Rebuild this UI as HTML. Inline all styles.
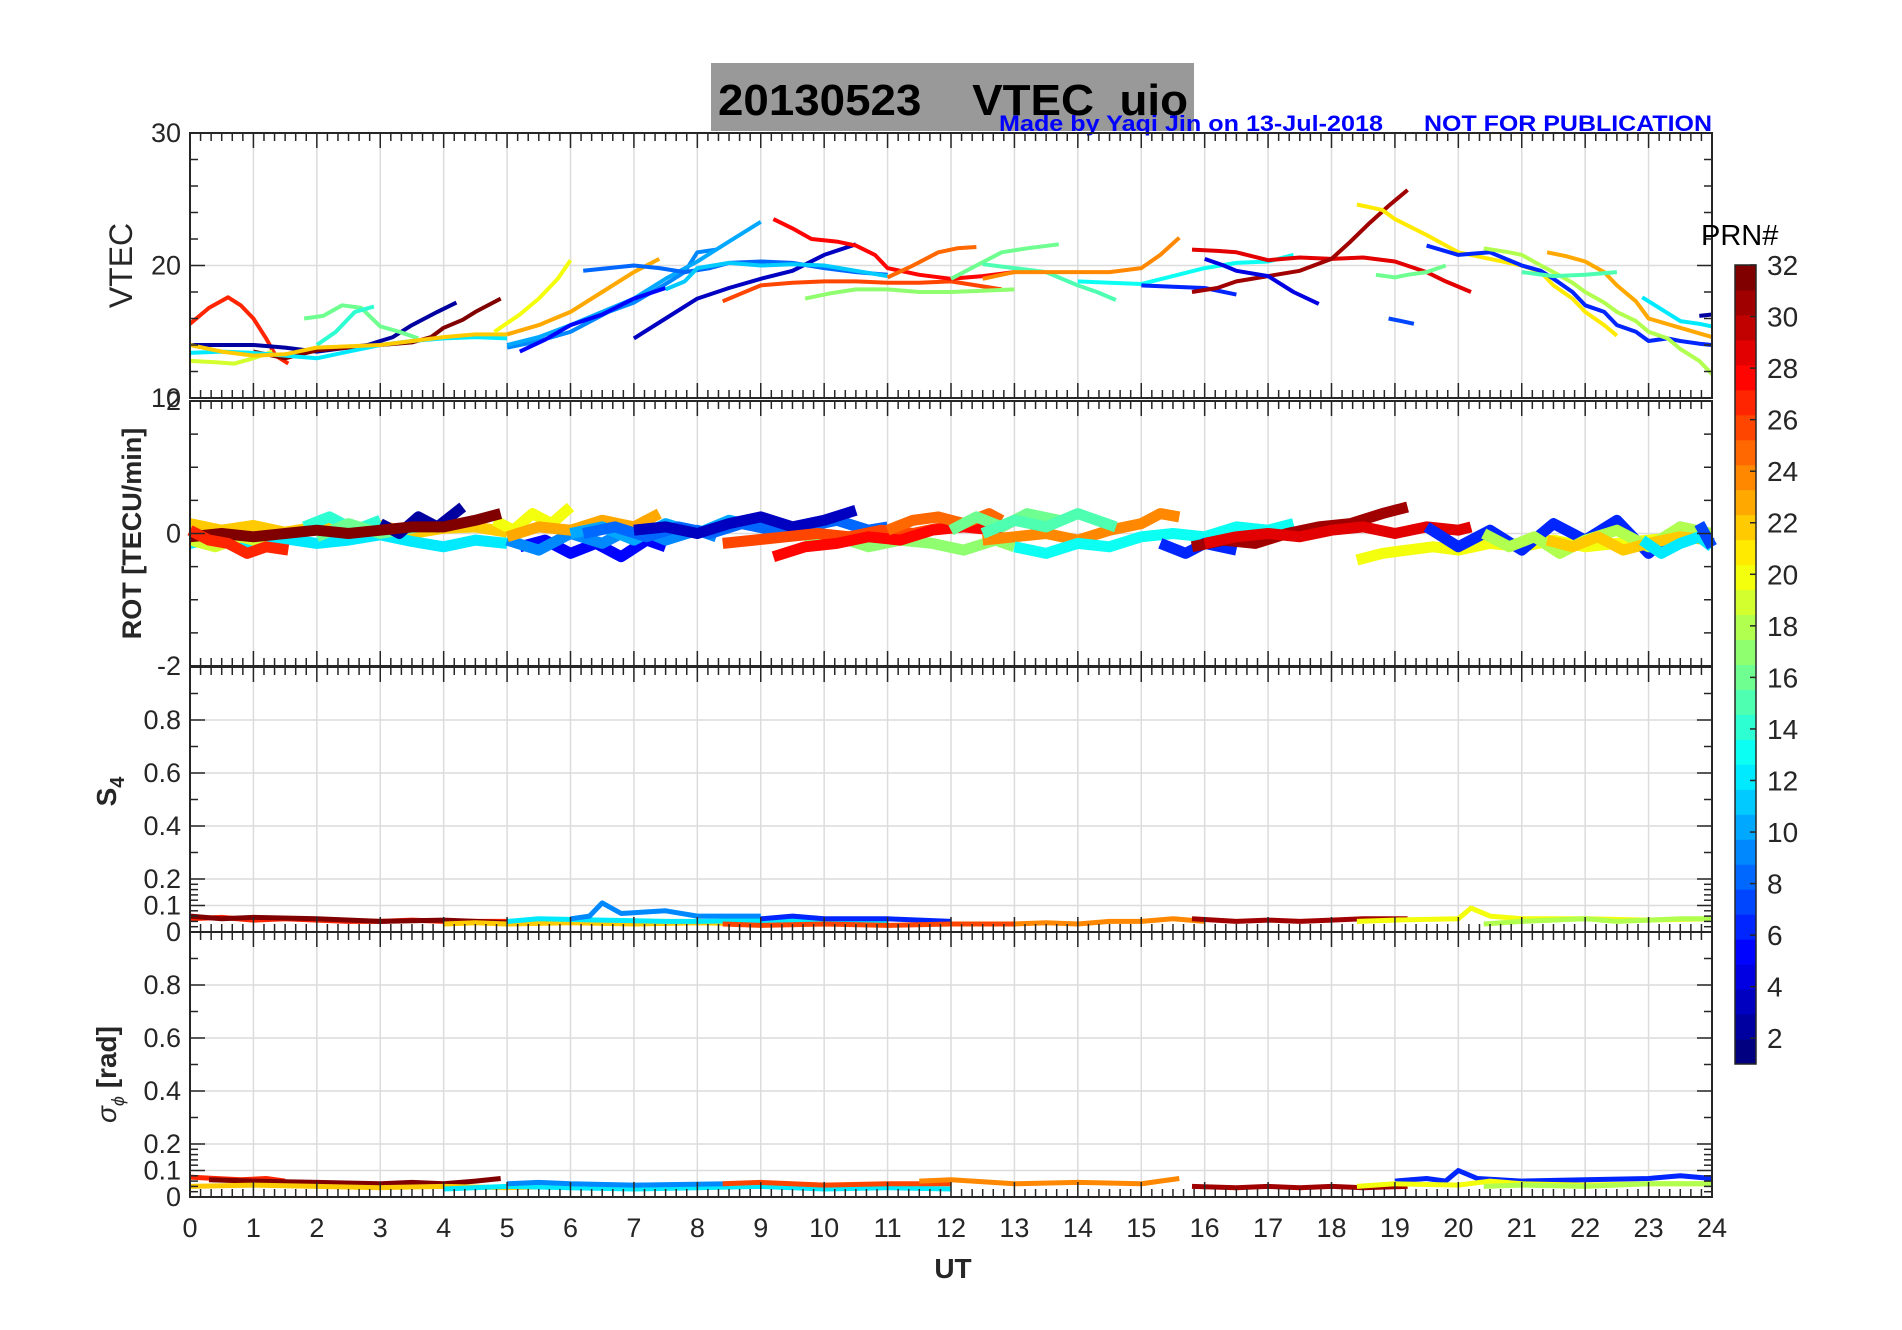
<!DOCTYPE html>
<html><head><meta charset="utf-8">
<style>
html,body{margin:0;padding:0;background:#fff;}
svg{display:block;font-family:"Liberation Sans",sans-serif;}
</style></head>
<body>
<svg id="fig" width="1902" height="1330" viewBox="0 0 1902 1330">
<rect x="0" y="0" width="1902" height="1330" fill="#fff"/>
<rect x="711" y="63" width="483" height="68" fill="#999"/>
<text x="718" y="115" font-size="44" font-weight="bold" fill="#000" xml:space="preserve" style="white-space:pre" textLength="470" lengthAdjust="spacingAndGlyphs">20130523    VTEC  uio</text>
<text x="999" y="131" font-size="22" font-weight="bold" fill="#0000ff" textLength="384" lengthAdjust="spacingAndGlyphs">Made by Yaqi Jin on 13-Jul-2018</text>
<text x="1424" y="131" font-size="22" font-weight="bold" fill="#0000ff" textLength="288" lengthAdjust="spacingAndGlyphs">NOT FOR PUBLICATION</text>
<g id="layer"></g>
</svg>
<script>
// ---- data ----
const hourTicks = [0,1,2,3,4,5,6,7,8,9,10,11,12,13,14,15,16,17,18,19,20,21,22,23,24];
const vtecTicks = [10,20,30];
const rotTicks = [-2,0,2];
const s4Ticks = [0,0.1,0.2,0.4,0.6,0.8];
const sigTicks = [0,0.1,0.2,0.4,0.6,0.8];
const cbTicks = [2,4,6,8,10,12,14,16,18,20,22,24,26,28,30,32];

// VTEC tracks: PRN, times (UT hours), values (TECU)
const vtecPrn = [27,2,32,16,14,19,12,22,20,23,9,10,5,3,8,11,26,28,17,25,16,15,24,13,6,29,31,4,21,6,18,23,12,16,7,15,2];
const vtecT = [
[0,0.3,0.6,0.8,1,1.2,1.35,1.55],
[0,1,1.5,2,2.8,3.2,3.5,3.9,4.2],
[1,1.5,2,2.5,3,3.5,3.8,4,4.3,4.5,4.9],
[1.8,2.1,2.4,2.7,3,3.3,3.6],
[2,2.3,2.6,2.9],
[0,0.4,0.7,1,1.3],
[0,0.5,1,1.5,2,2.5,3,3.5,4,4.5,5],
[0,0.5,1,1.5,2,3,4,4.5,5],
[4.8,5.2,5.5,5.8,6],
[5,5.5,6,6.5,7,7.4],
[5,5.5,6,6.6,7,7.5,7.8,8,8.3],
[5,5.5,6,6.5,7,7.5,8,8.5,9],
[5.2,5.6,6,6.5,7,7.5],
[7,7.5,8,8.5,9,9.5,10,10.5],
[6.2,6.6,7,7.4,7.8,8.2,8.5,9,9.5,10,10.5,11],
[7.5,7.8,8,8.5,9,9.5,10,10.5,11],
[8.4,8.7,9,9.5,10,10.5,11,11.5,12,12.4,12.8],
[9.2,9.5,9.8,10.2,10.5,10.8,11,11.5,12,12.5,13],
[9.7,10.1,10.5,11,11.5,12,12.5,13],
[11,11.4,11.8,12.1,12.4],
[12,12.4,12.8,13.2,13.7],
[12.5,13,13.5,14,14.3,14.6],
[12.5,13,13.5,14,14.5,15,15.3,15.6],
[14,14.5,15,15.5,16,16.5,17,17.4],
[15,15.5,16,16.5],
[15.8,16.2,16.5,17,17.5,18,18.5,19,19.5,19.8,20.2],
[15.8,16.2,16.5,17,17.5,18,18.3,18.6,18.9,19.2],
[16,16.3,16.5,17,17.4,17.8],
[18.4,18.8,19,19.5,20,20.5,21,21.3,21.5,21.8,22,22.3,22.5],
[19.5,20,20.5,21,21.3,21.5,21.8,22,22.3,22.5,22.8,23,23.3,23.5,23.8,24],
[20.4,20.8,21,21.3,21.5,21.8,22,22.3,22.5,22.8,23,23.3,23.5,23.8,24],
[21.4,21.7,22,22.3,22.5,22.8,23,23.5,24],
[22.9,23.2,23.5,23.8,24],
[18.7,19,19.2,19.5,19.8],
[18.9,19.1,19.3],
[21,21.5,22,22.5],
[23.8,24]
];
const vtecV = [
[15.6,16.8,17.6,17,16,14.5,13.2,12.6],
[14,14,13.8,13.5,14,14.6,15.5,16.5,17.2],
[13.5,13,13.6,13.8,14,14.2,14.6,15.3,15.9,16.5,17.5],
[16,16.2,17,16.8,15.4,15,14.5],
[14,15,16.5,16.9],
[12.8,12.7,12.6,13,13.5],
[13.4,13.5,13.4,13.2,13,13.5,14,14.3,14.5,14.6,14.5],
[14,13.5,13.2,13.3,13.8,14,14.6,14.8,14.8],
[15,16.3,17.5,19,20.4],
[14.8,15.5,16.5,18,19.5,20.5],
[13.8,14.3,15,16.5,17.2,18.6,19.5,21,21.2],
[14,14.6,15.5,16.5,17.5,19,20.3,21.8,23.3],
[13.5,14.4,15.5,16.3,17.5,18.3],
[14.5,16,17.5,18.3,19,19.6,20.8,21.6],
[19.6,19.8,20,19.8,19.5,19.8,20.2,20.3,20.2,19.8,19.5,19.3],
[18.2,18.8,19.8,20.2,20,20.1,20,19.6,19.2],
[17.3,17.9,18.5,18.7,18.8,18.8,18.7,18.7,18.8,18.5,18.2],
[23.5,22.8,22,21.8,21.5,20.8,19.8,19.3,19,19.2,19.5],
[17.5,17.9,18.2,18.2,18,18,18.1,18.2],
[19.1,20,21,21.3,21.4],
[19,20,21,21.3,21.6],
[20.1,19.8,19.5,18.5,18,17.4],
[19,19.5,19.5,19.5,19.5,19.8,20.8,22.1],
[18.8,18.7,18.6,19.2,19.8,20.2,20.3,20.8],
[18.5,18.4,18.3,17.8],
[21.2,21.1,21,20.4,20.6,20.5,20.6,20.3,19.5,18.8,18],
[18,18.3,18.8,19.2,19.6,20.5,21.8,23.2,24.5,25.7],
[20.5,20,19.6,19.2,18,17.1],
[24.6,24.2,23.5,22.3,21,20.5,20,19.5,18.5,17.5,16.5,15.5,14.7],
[21.5,20.8,21,20,19.6,19,18,17,16.5,15.5,15,14.3,14.5,14.3,14.1,14],
[21.3,21,20.8,20,19.5,18.7,18,17.2,16.5,15.8,15,14.5,13.7,12.8,11.8],
[21,20.7,20.3,19.5,18.5,17.3,16,15.3,14.6],
[17.6,16.7,15.8,15.6,15.4],
[19.3,19.1,19.3,19.5,20],
[16,15.8,15.6],
[19.5,19.2,19.3,19.5],
[16.2,16.3]
];

// ROT tracks: PRN, times, values (TECU/min)
const rotPrn = [22,12,19,14,16,2,5,9,20,23,10,8,3,17,26,28,25,16,24,13,15,6,31,29,20,6,18,22,12,7,32,27];
const rotT = [
[0,0.5,1,1.5,2,2.5,3,3.5,4,4.5,5],
[0,0.5,1,1.5,2,2.5,3,3.5,4,4.5,5],
[0,0.4,0.8,1.2],
[1.8,2.2,2.6,3],
[2,2.5,3,3.6],
[3,3.3,3.6,3.9,4.3],
[5.2,5.6,6,6.4,6.8,7.2,7.5],
[5,5.5,6,6.5,7,7.5,8,8.3],
[4.8,5.1,5.4,5.7,6],
[5,5.5,6,6.5,7,7.4],
[6,6.5,7,7.5,8,8.5,9],
[6.2,6.7,7.2,7.7,8.2,8.7,9.2,9.7,10.2,10.7,11],
[7,7.5,8,8.5,9,9.5,10,10.5],
[9.7,10.2,10.7,11.2,11.7,12.2,12.7,13],
[8.4,8.9,9.4,9.9,10.4,10.9,11.4,11.9,12.4,12.8],
[9.2,9.7,10.2,10.7,11.2,11.7,12.2,12.7,13],
[11,11.4,11.8,12.2,12.6,12.8],
[12,12.4,12.8,13.2,13.7],
[12.5,13,13.5,14,14.5,15,15.3,15.6],
[13,13.5,14,14.5,15,15.5,16,16.5,17,17.4],
[12.5,13,13.5,14,14.6],
[15.3,15.7,16,16.5],
[15.8,16.3,16.8,17.3,17.8,18.3,18.8,19.2],
[16,16.5,17,17.5,18,18.5,19,19.5,20,20.2],
[18.4,18.8,19.2,19.6,20,20.5,21,21.5,22,22.5,23,23.5,24],
[19.5,20,20.5,21,21.5,22,22.5,23,23.5,24],
[20.4,20.8,21.2,21.6,22,22.5,23,23.5,24],
[21.4,21.8,22.2,22.6,23,23.5,24],
[22.9,23.2,23.5,23.8,24],
[23.8,24],
[0,0.5,1,1.5,2,2.5,3,3.5,4,4.5,4.9],
[0,0.3,0.6,0.9,1.2,1.55]
];
const rotV = [
[0.15,0.05,0.12,0.02,0.1,0.05,0.12,0.0,0.08,0.1,0.02],
[-0.15,-0.05,-0.18,-0.08,-0.15,-0.1,-0.02,-0.12,-0.2,-0.1,-0.15],
[-0.1,-0.2,-0.05,-0.15],
[0.1,0.25,0.05,0.2],
[-0.05,0.15,0.0,0.1],
[0.15,0.0,0.25,0.1,0.4],
[-0.2,-0.1,-0.3,-0.15,-0.35,-0.1,-0.2],
[-0.1,-0.25,0.0,-0.15,0.1,-0.1,0.05,-0.05],
[0.2,0.05,0.3,0.15,0.4],
[-0.05,0.1,0.05,0.2,0.1,0.3],
[0.0,0.1,-0.1,0.15,0.0,0.2,0.1],
[0.0,0.1,-0.05,0.1,0.0,0.15,0.05,0.1,0.2,0.05,0.1],
[0.05,0.1,0.0,0.15,0.25,0.1,0.2,0.35],
[-0.15,-0.05,-0.2,-0.1,-0.15,-0.25,-0.1,-0.2],
[-0.15,-0.1,-0.05,0.0,-0.05,0.05,0.0,0.1,0.15,0.1],
[-0.35,-0.2,-0.15,-0.05,-0.1,0.05,0.1,0.05,0.2],
[0.05,0.2,0.25,0.15,0.3,0.2],
[0.05,0.25,0.1,0.3,0.2],
[-0.1,-0.05,0.0,-0.1,0.05,0.15,0.3,0.25],
[-0.2,-0.3,-0.15,-0.2,-0.05,0.0,-0.05,0.1,0.05,0.15],
[0.0,0.2,0.1,0.3,0.1],
[-0.15,-0.3,-0.15,-0.25],
[-0.2,-0.1,-0.15,0.0,0.1,0.15,0.3,0.4],
[-0.15,-0.05,0.0,-0.05,0.05,0.1,0.0,0.1,0.05,0.1],
[-0.4,-0.3,-0.25,-0.2,-0.25,-0.15,-0.2,-0.1,-0.2,-0.15,-0.1,-0.05,0.0],
[0.1,-0.2,0.05,-0.25,0.15,-0.1,0.2,-0.3,0.1,-0.15],
[0.0,-0.2,-0.05,-0.3,-0.1,0.05,-0.2,0.1,0.0],
[-0.1,-0.2,-0.05,-0.25,-0.15,-0.05,-0.1],
[-0.1,-0.3,-0.15,-0.05,-0.2],
[0.15,-0.2],
[-0.05,0.0,-0.05,0.0,0.05,0.0,0.05,0.1,0.1,0.2,0.3],
[0.05,-0.1,-0.15,-0.3,-0.2,-0.25]
];

// S4 tracks
const s4Prn = [27,32,22,12,9,6,26,24,31,20,18];
const s4T = [[0,0.5,1,1.5,2,2.5,3,3.5,4,4.5,5],[0,0.5,1,2,3,4,4.5,5],[4,4.5,5,6,7,8,9],[5,5.5,6.5,7.5,8,9.5,10.5,11],[6,6.3,6.5,6.8,7.5,8,9],[9,9.5,10,11,12],[8.4,9,10,11,12,13],[13,13.5,14,14.5,15,15.5,16],[15.8,16.5,17,17.5,18,18.5,19.2],[18.4,19,20,20.2,20.5,21,22,23,24],[20.4,21,22,22.5,23.5,24]];
const s4V = [[0.05,0.055,0.045,0.05,0.045,0.04,0.04,0.045,0.04,0.04,0.04],[0.06,0.05,0.055,0.05,0.04,0.045,0.04,0.035],[0.03,0.035,0.03,0.035,0.03,0.035,0.03],[0.04,0.05,0.045,0.04,0.04,0.045,0.04,0.035],[0.05,0.06,0.11,0.07,0.08,0.06,0.06],[0.05,0.06,0.05,0.05,0.04],[0.03,0.025,0.03,0.025,0.03,0.03],[0.03,0.035,0.03,0.04,0.04,0.05,0.04],[0.05,0.04,0.045,0.04,0.045,0.05,0.05],[0.04,0.045,0.05,0.09,0.06,0.05,0.05,0.045,0.05],[0.03,0.04,0.05,0.04,0.05,0.05]];

// sigma-phi tracks
const sigPrn = [27,32,22,12,9,26,24,31,6,20,18];
const sigT = [[0,0.4,0.8,1.2,1.5],[0.3,1,2,3,3.5,4,4.5,4.9],[0,1,2,3,4,5,6,7,8],[4,5,6,7,8,9,10,11,12],[5,5.5,6,7,8.5],[8.4,9,10,11,12],[11.5,12,13,14,15,15.3,15.6],[15.8,16.5,17,17.5,18,18.5,19.2],[19,19.5,19.8,20,20.3,21,22,23,23.5,24],[18.4,19,20,20.5,21,22,23,24],[20.4,21,22,23,24]];
const sigV = [[0.075,0.07,0.065,0.07,0.06],[0.065,0.06,0.055,0.05,0.055,0.05,0.06,0.07],[0.04,0.045,0.04,0.035,0.04,0.035,0.04,0.035,0.04],[0.03,0.04,0.035,0.03,0.035,0.04,0.03,0.035,0.03],[0.05,0.055,0.05,0.045,0.05],[0.05,0.055,0.045,0.05,0.05],[0.06,0.065,0.05,0.055,0.05,0.06,0.07],[0.04,0.035,0.04,0.035,0.04,0.035,0.04],[0.06,0.07,0.06,0.1,0.07,0.06,0.065,0.07,0.08,0.07],[0.04,0.05,0.045,0.06,0.05,0.045,0.05,0.05],[0.04,0.045,0.04,0.05,0.05]];

// ---- layout ----
const NS = "http://www.w3.org/2000/svg";
const layer = document.getElementById('layer');
const X0 = 190, X1 = 1712;
const xs = h => X0 + (h/24)*(X1-X0);
function mk(tag, attrs, parent){ const e=document.createElementNS(NS,tag); for(const k in attrs) e.setAttribute(k,attrs[k]); (parent||layer).appendChild(e); return e; }
function jet(p){ const v=(p-1)/31; const r=Math.min(1,Math.max(0,1.5-Math.abs(4*v-3))); const g=Math.min(1,Math.max(0,1.5-Math.abs(4*v-2))); const b=Math.min(1,Math.max(0,1.5-Math.abs(4*v-1))); return `rgb(${Math.round(r*255)},${Math.round(g*255)},${Math.round(b*255)})`; }

const panels = [
 {name:'vtec', top:133, bot:398, min:10, max:30, ticks:vtecTicks, minor:[12,14,16,18,22,24,26,28]},
 {name:'rot', top:401, bot:666, min:-2, max:2, ticks:rotTicks, minor:[-1.5,-1,-0.5,0.5,1,1.5]},
 {name:'s4', top:667, bot:932, min:0, max:1, ticks:s4Ticks, minor:[0.02,0.04,0.06,0.08,0.12,0.14,0.16,0.18,0.3,0.5,0.7,0.9]},
 {name:'sigma', top:932, bot:1197, min:0, max:1, ticks:sigTicks, minor:[0.02,0.04,0.06,0.08,0.12,0.14,0.16,0.18,0.3,0.5,0.7,0.9]}
];

panels.forEach(p=>{
  const g = mk('g',{});
  
  
  const ys = v => p.bot - (v-p.min)/(p.max-p.min)*(p.bot-p.top);
  p.ys = ys; p.g = g;
  hourTicks.forEach(h=>{ if(h>0&&h<24){ const l=mk('line',{x1:xs(h),x2:xs(h),y1:p.top,y2:p.bot,stroke:'#dcdcdc','stroke-width':1.5},g);
      }});
  p.ticks.forEach(t=>{ if(t>p.min&&t<p.max){ const l=mk('line',{x1:X0,x2:X1,y1:ys(t),y2:ys(t),stroke:'#dcdcdc','stroke-width':1.5},g);
      }});
});

function drawTracks(p, prns, T, V, sw, nm){
  prns.forEach((prn,i)=>{
    const pts = T[i].map((t,j)=> xs(t).toFixed(1)+','+p.ys(V[i][j]).toFixed(1)).join(' ');
    const pl = mk('polyline',{points:pts,fill:'none',stroke:jet(prn),'stroke-width':sw,'stroke-linejoin':'round','stroke-linecap':'butt'},p.g);
    
    
  });
}
drawTracks(panels[0], vtecPrn, vtecT, vtecV, 4, 'vtec-track');
drawTracks(panels[1], rotPrn, rotT, rotV, 11, 'rot-track');
drawTracks(panels[2], s4Prn, s4T, s4V, 5, 's4-track');
drawTracks(panels[3], sigPrn, sigT, sigV, 5, 'sigma-track');

panels.forEach((p,pi)=>{
  const g = p.g, ys = p.ys;
  const box = mk('rect',{x:X0,y:p.top,width:X1-X0,height:p.bot-p.top,fill:'none',stroke:'#262626','stroke-width':2},g);
   
  for(let k=0;k<=144;k++){ const h=k/6, x=xs(h), L=(k%6===0)?15:8;
    mk('line',{x1:x,x2:x,y1:p.bot,y2:p.bot-L,stroke:'#262626','stroke-width':1.5},g);
    mk('line',{x1:x,x2:x,y1:p.top,y2:p.top+L,stroke:'#262626','stroke-width':1.5},g); }
  p.ticks.forEach(t=>{ const y=ys(t);
    mk('line',{x1:X0,x2:X0+15,y1:y,y2:y,stroke:'#262626','stroke-width':1.5},g);
    mk('line',{x1:X1,x2:X1-15,y1:y,y2:y,stroke:'#262626','stroke-width':1.5},g);
    const tx = mk('text',{x:X0-9,y:y+9,'font-size':27,'text-anchor':'end',fill:'#262626'},g);
    tx.textContent = String(t);
      });
  p.minor.forEach(t=>{ const y=ys(t);
    mk('line',{x1:X0,x2:X0+8,y1:y,y2:y,stroke:'#262626','stroke-width':1.5},g);
    mk('line',{x1:X1,x2:X1-8,y1:y,y2:y,stroke:'#262626','stroke-width':1.5},g); });
  const cy = (p.top+p.bot)/2;
  let lab;
  if(p.name==='vtec'){ lab = mk('text',{x:0,y:0,'font-size':32,'text-anchor':'middle',fill:'#262626',transform:`translate(132,${cy}) rotate(-90)`},g); lab.textContent='VTEC'; }
  else if(p.name==='rot'){ lab = mk('text',{x:0,y:0,'font-size':27,'font-weight':'bold','text-anchor':'middle',fill:'#262626',transform:`translate(141,${cy}) rotate(-90)`},g); lab.textContent='ROT [TECU/min]'; }
  else if(p.name==='s4'){ lab = mk('text',{x:0,y:0,'font-size':28,'font-weight':'bold','text-anchor':'middle',fill:'#262626',transform:`translate(116,${cy-8}) rotate(-90)`},g); lab.innerHTML='S<tspan font-size="20" dy="8">4</tspan>'; }
  else { lab = mk('text',{x:0,y:0,'font-size':28,'font-weight':'bold','text-anchor':'middle',fill:'#262626',transform:`translate(116,${cy+10}) rotate(-90)`},g); lab.innerHTML='<tspan font-style="italic" font-weight="normal">σ</tspan><tspan font-size="18" dy="8" font-style="italic" font-weight="normal">ϕ</tspan><tspan dy="-8"> [rad]</tspan>'; }
   
});

hourTicks.forEach(h=>{
  const t = mk('text',{x:xs(h),y:1237,'font-size':27,'text-anchor':'middle',fill:'#262626'});
  t.textContent = String(h);
   
});
const xt = mk('text',{x:953,y:1278,'font-size':28,'font-weight':'bold','text-anchor':'middle',fill:'#262626'});
xt.textContent='UT';
 

const cb = mk('g',{});
 
const CBX=1735, CBW=21, CBT=265, CBB=1064;
const cbY = n => CBB - (n-1)/31*(CBB-CBT);
for(let n=1;n<=32;n++){
  const y0 = CBB - (n-1)/32*(CBB-CBT), y1 = CBB - n/32*(CBB-CBT);
  mk('rect',{x:CBX,y:y1,width:CBW,height:y0-y1+0.5,fill:jet(n)},cb);
}
mk('rect',{x:CBX,y:CBT,width:CBW,height:CBB-CBT,fill:'none',stroke:'#262626','stroke-width':1.5},cb);
cbTicks.forEach(n=>{
  const y=cbY(n);
  mk('line',{x1:CBX+CBW-6,x2:CBX+CBW,y1:y,y2:y,stroke:'#262626','stroke-width':1.5},cb);
  const t=mk('text',{x:CBX+CBW+11,y:y+10,'font-size':28,fill:'#262626'},cb);
  t.textContent=String(n);
   
});
const prnT = mk('text',{x:1701,y:245,'font-size':29,fill:'#000'},cb);
prnT.textContent='PRN#';
 
</script>
</body></html>
